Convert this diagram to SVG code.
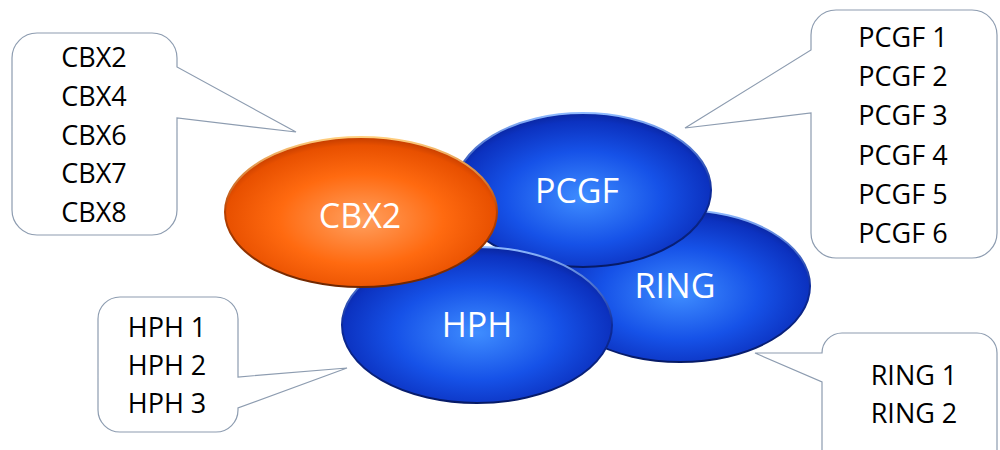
<svg xmlns="http://www.w3.org/2000/svg" width="1000" height="450" viewBox="0 0 1000 450">
<defs>
<radialGradient id="blueFill" cx="50%" cy="55%" r="55%">
<stop offset="0" stop-color="#3f8dff"/>
<stop offset="0.55" stop-color="#1652e8"/>
<stop offset="0.9" stop-color="#0c32c0"/>
<stop offset="1" stop-color="#0a26a0"/>
</radialGradient>
<radialGradient id="orangeFill" cx="50%" cy="55%" r="55%">
<stop offset="0" stop-color="#ffa060"/>
<stop offset="0.55" stop-color="#ff6a10"/>
<stop offset="0.9" stop-color="#e85000"/>
<stop offset="1" stop-color="#c23c00"/>
</radialGradient>
<linearGradient id="blueRim" x1="0" y1="0" x2="0" y2="1">
<stop offset="0" stop-color="#8fbaff"/>
<stop offset="0.5" stop-color="#0c2a9a"/>
<stop offset="1" stop-color="#061a66"/>
</linearGradient>
<linearGradient id="orangeRim" x1="0" y1="0" x2="0" y2="1">
<stop offset="0" stop-color="#ffd080"/>
<stop offset="0.5" stop-color="#b84000"/>
<stop offset="1" stop-color="#6e2600"/>
</linearGradient>
</defs>
<style>
.callout{fill:#ffffff;stroke:#8d9cb0;stroke-width:1.2}
.ctext{font-family:"Open Sans","Liberation Sans",sans-serif;font-size:27px;fill:#000000;text-anchor:middle}
.etext{font-family:"Open Sans","Liberation Sans",sans-serif;font-size:34px;fill:#ffffff;text-anchor:middle}
.blue{fill:url(#blueFill);stroke:url(#blueRim);stroke-width:2}
.orange{fill:url(#orangeFill);stroke:url(#orangeRim);stroke-width:2}
</style>
<rect width="1000" height="450" fill="#ffffff"/>

<g id="connectors">
<path class="callout" d="M 37,33 H 152 A 25 25 0 0 1 177 58 V 67 L 296 132 L 177 118 V 210 A 25 25 0 0 1 152 235 H 37 A 25 25 0 0 1 12 210 V 58 A 25 25 0 0 1 37 33 Z"/>
<path class="callout" d="M 836,10 H 972 A 25 25 0 0 1 997 35 V 233 A 25 25 0 0 1 972 258 H 836 A 25 25 0 0 1 811 233 V 113 L 685 128 L 811 50 V 35 A 25 25 0 0 1 836 10 Z"/>
<path class="callout" d="M 120,297 H 216 A 22 22 0 0 1 238 319 V 377 L 347 368 L 238 408 V 410 A 22 22 0 0 1 216 432 H 120 A 22 22 0 0 1 98 410 V 319 A 22 22 0 0 1 120 297 Z"/>
<path class="callout" d="M 842,333 H 977 A 20 20 0 0 1 997 353 V 470 H 822 V 382 L 755 353 L 822 353 A 20 20 0 0 1 842 333 Z"/>
</g>

<g id="cbx-list">
<text class="ctext" x="94" y="67">CBX2</text>
<text class="ctext" x="94" y="106">CBX4</text>
<text class="ctext" x="94" y="145">CBX6</text>
<text class="ctext" x="94" y="183">CBX7</text>
<text class="ctext" x="94" y="222">CBX8</text>
</g>

<g id="pcgf-list">
<text class="ctext" x="903" y="47">PCGF 1</text>
<text class="ctext" x="903" y="86">PCGF 2</text>
<text class="ctext" x="903" y="125">PCGF 3</text>
<text class="ctext" x="903" y="165">PCGF 4</text>
<text class="ctext" x="903" y="204">PCGF 5</text>
<text class="ctext" x="903" y="243">PCGF 6</text>
</g>

<g id="hph-list">
<text class="ctext" x="167" y="337">HPH 1</text>
<text class="ctext" x="167" y="375">HPH 2</text>
<text class="ctext" x="167" y="413">HPH 3</text>
</g>

<g id="ring-list">
<text class="ctext" x="914" y="385">RING 1</text>
<text class="ctext" x="914" y="423">RING 2</text>
</g>

<g id="node-ring">
<ellipse class="blue" cx="680" cy="286" rx="130" ry="76"/>
<text class="etext" x="675" y="298">RING</text>
</g>

<g id="node-pcgf">
<ellipse class="blue" cx="583" cy="190" rx="128" ry="77"/>
<text class="etext" x="577" y="203">PCGF</text>
</g>

<g id="node-hph">
<ellipse class="blue" cx="477" cy="325" rx="135" ry="78"/>
<text class="etext" x="477" y="337">HPH</text>
</g>

<g id="node-cbx2">
<ellipse class="orange" cx="361" cy="212" rx="136" ry="75"/>
<text class="etext" x="360" y="228">CBX2</text>
</g>
</svg>
